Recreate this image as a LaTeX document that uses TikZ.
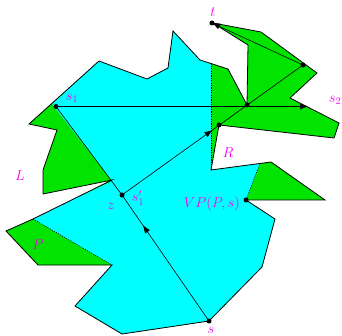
\documentclass[tikz,border=0pt]{standalone}
\usetikzlibrary{arrows.meta,decorations.markings}
\definecolor{pgreen}{RGB}{0,228,0}
\definecolor{pcyan}{RGB}{0,255,255}
\definecolor{lblcol}{RGB}{240,0,240}
\tikzset{
  edge/.style={draw=black,line width=0.8pt,line join=miter},
  window/.style={draw=black,line width=0.6pt,dash pattern=on 1.2pt off 1.2pt},
  ray/.style={draw=black,line width=0.6pt},
  dot/.style={circle,fill=black,inner sep=0pt,minimum size=5pt},
  lbl/.style={text=lblcol,font=\fontsize{14.4}{17}\selectfont,inner sep=0pt},
  midarrow/.style={postaction={decorate},decoration={markings,mark=at position #1 with {\arrow{Latex[length=8pt,width=6pt]}}}},
}
\begin{document}
\begin{tikzpicture}[x=1pt,y=-1pt]
\useasboundingbox (0,0) rectangle (342,336);
% whole polygon (green)
\fill[pgreen] (209,321) -- (262,267) -- (275,219) -- (246,200) -- (325,200) -- (271,162) -- (211,170) -- (219,125) -- (334,138) -- (339,123) -- (290,98) -- (317,73) -- (261,32) -- (213,23) -- (248,45) -- (247,105) -- (228,69) -- (200,60) -- (173,31) -- (168,68) -- (147,79) -- (99,61) -- (29,124) -- (57,130) -- (43,170) -- (43,194) -- (112,180) -- (33,219) -- (6,231) -- (38,265) -- (112,265) -- (75,306) -- (122,334) -- cycle;
% visibility polygon (cyan)
\fill[pcyan] (209,321) -- (262,267) -- (275,219) -- (246,200) -- (260,163.5) -- (211,170) -- (211,63.5) -- (200,60) -- (173,31) -- (168,68) -- (147,79) -- (99,61) -- (52,104) -- (112,181) -- (33,219) -- (112,265) -- (75,306) -- (122,334) -- cycle;
% windows
\draw[window] (211,63.5) -- (211,170);
\draw[window] (246,200) -- (260,163.5);
\draw[window] (33,219) -- (112,265);
% polygon boundary
\draw[edge] (209,321) -- (262,267) -- (275,219) -- (246,200) -- (325,200) -- (271,162) -- (211,170) -- (219,125) -- (334,138) -- (339,123) -- (290,98) -- (317,73) -- (261,32) -- (213,23) -- (248,45) -- (247,105) -- (228,69) -- (200,60) -- (173,31) -- (168,68) -- (147,79) -- (99,61) -- (29,124) -- (57,130) -- (43,170) -- (43,194) -- (112,180) -- (33,219) -- (6,231) -- (38,265) -- (112,265) -- (75,306) -- (122,334) -- cycle;
% points
\node[dot] (s) at (209,321) {};
\node[dot] (s1) at (56,106.5) {};
\node[dot] (s1p) at (122,195) {};
\node[dot] (q1) at (219,125) {};
\node[dot] (q2) at (247,105) {};
\node[dot] (q3) at (303,65) {};
\node[dot] (t) at (212,23) {};
\node[dot] (vp) at (246,200) {};
\coordinate (s2tip) at (308,106.5);
% rays
\draw[ray,midarrow=0.76] (s.center) -- (s1p.center);
\draw[ray] (s1p.center) -- (s1.center);
\draw[ray,midarrow=0.5] (s1p.center) -- (q3.center);
\draw[ray,-{Latex[length=8pt,width=6pt]}] (q3.center) -- (t.center);
\draw[ray,-{Latex[length=8pt,width=6pt]}] (s1.center) -- (s2tip);
% labels
\node[lbl] (lt) at (213,12) {$t$};
\node[lbl] (ls1) at (72,98) {$s_1$};
\node[lbl] (ls2) at (335,100) {$s_2$};
\node[lbl] (lL) at (20,176) {$L$};
\node[lbl] (lR) at (228,153) {$R$};
\node[lbl] (lz) at (111,206) {$z$};
\node[lbl] (ls1p) at (138,198) {$s_1'$};
\node[lbl,anchor=east] (lvp) at (240,204) {$VP(P,s)$};
\node[lbl] (lP) at (38,245) {$P$};
\node[lbl] (ls) at (211,330.5) {$s$};
\end{tikzpicture}
\end{document}
